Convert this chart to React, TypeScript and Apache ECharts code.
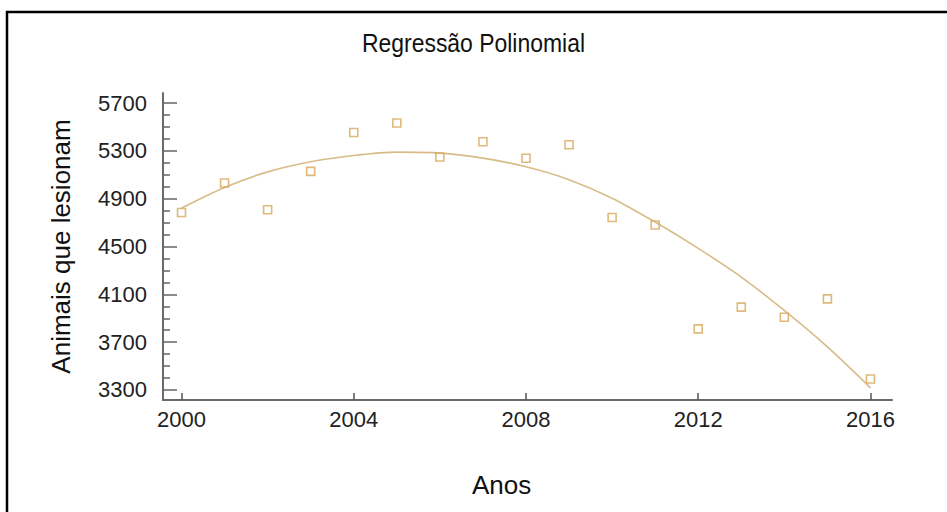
import React, { useEffect, useRef } from "react";
import * as echarts from "echarts";

const years = [2000, 2001, 2002, 2003, 2004, 2005, 2006, 2007, 2008, 2009, 2010, 2011, 2012, 2013, 2014, 2015, 2016];
const observed = [4785, 5032, 4808, 5129, 5455, 5534, 5249, 5377, 5239, 5352, 4743, 4680, 3811, 3993, 3909, 4062, 3392];
const fitted = [4822, 4995, 5125, 5210, 5262, 5290, 5282, 5240, 5168, 5060, 4905, 4705, 4485, 4245, 3965, 3660, 3318];
const yTicks = [3300, 3700, 4100, 4500, 4900, 5300, 5700];
const yMinorTicks = [3400, 3500, 3600, 3800, 3900, 4000, 4200, 4300, 4400, 4600, 4700, 4800, 5000, 5100, 5200, 5400, 5500, 5600];
const xTicks = [2000, 2004, 2008, 2012, 2016];

const FONT = "Liberation Sans, Arial, sans-serif";

export default function App() {
  const ref = useRef<HTMLDivElement>(null);
  useEffect(() => {
    if (!ref.current) return;
    const chart = echarts.init(ref.current, undefined, { renderer: "svg" });
    const yMin = 3216;
    const yMax = 5785;
    chart.setOption({
      animation: false,
      backgroundColor: "#ffffff",
      graphic: [
        {
          type: "rect",
          shape: { x: 7, y: 12, width: 1000, height: 1000 },
          style: { fill: "none", stroke: "#000", lineWidth: 2.5 },
          silent: true,
        },
        {
          type: "text",
          x: 473.5,
          y: 43,
          scaleX: 0.866,
          style: {
            text: "Regressão Polinomial",
            fontSize: 26.5,
            fontFamily: FONT,
            fill: "#111",
            textAlign: "center",
            textVerticalAlign: "middle",
          },
          silent: true,
        },
      ],
      grid: { left: 163, top: 93, width: 729, height: 307 },
      xAxis: {
        type: "value",
        min: 1999.57,
        max: 2016.5,
        name: "Anos",
        nameLocation: "middle",
        nameGap: 72,
        nameTextStyle: { fontSize: 26, fontFamily: FONT, color: "#111", padding: [0, 52, 0, 0] },
        axisLine: { show: true, lineStyle: { color: "#6a6a6a", width: 2 } },
        axisTick: { show: true, customValues: xTicks, inside: true, length: 7, lineStyle: { color: "#555", width: 1.5 } },
        axisLabel: { customValues: xTicks, fontSize: 22, fontFamily: FONT, color: "#222", margin: 8, formatter: (v: number) => String(v) },
        splitLine: { show: false },
      },
      yAxis: [
        {
          type: "value",
          position: "left",
          min: yMin,
          max: yMax,
          name: "Animais que lesionam",
          nameLocation: "middle",
          nameGap: 89,
          nameTextStyle: { fontSize: 26, fontFamily: FONT, color: "#111" },
          axisLine: { show: true, lineStyle: { color: "#6a6a6a", width: 2 } },
          axisTick: { show: true, customValues: yTicks, inside: true, length: 14, lineStyle: { color: "#666", width: 1.5 } },
          axisLabel: { customValues: yTicks, fontSize: 22, fontFamily: FONT, color: "#222", margin: 16, formatter: (v: number) => String(v) },
          splitLine: { show: false },
        },
        {
          type: "value",
          position: "left",
          min: yMin,
          max: yMax,
          axisLine: { show: false },
          axisTick: { show: true, customValues: yMinorTicks, inside: true, length: 7, lineStyle: { color: "#666", width: 1.5 } },
          axisLabel: { show: false },
          splitLine: { show: false },
        },
      ],
      series: [
        {
          type: "line",
          data: years.map((y, i) => [y, fitted[i]]),
          smooth: 0.3,
          showSymbol: false,
          lineStyle: { color: "#D8BC88", width: 1.6 },
          z: 2,
        },
        {
          type: "scatter",
          data: years.map((y, i) => [y, observed[i]]),
          symbol: "rect",
          symbolSize: 8,
          itemStyle: { color: "rgba(0,0,0,0)", borderColor: "#D7A85A", borderWidth: 1.6 },
          z: 3,
        },
      ],
    });
    return () => chart.dispose();
  }, []);
  return <div ref={ref} style={{ position: "absolute", left: 0, top: 0, width: 947, height: 512 }} />;
}
